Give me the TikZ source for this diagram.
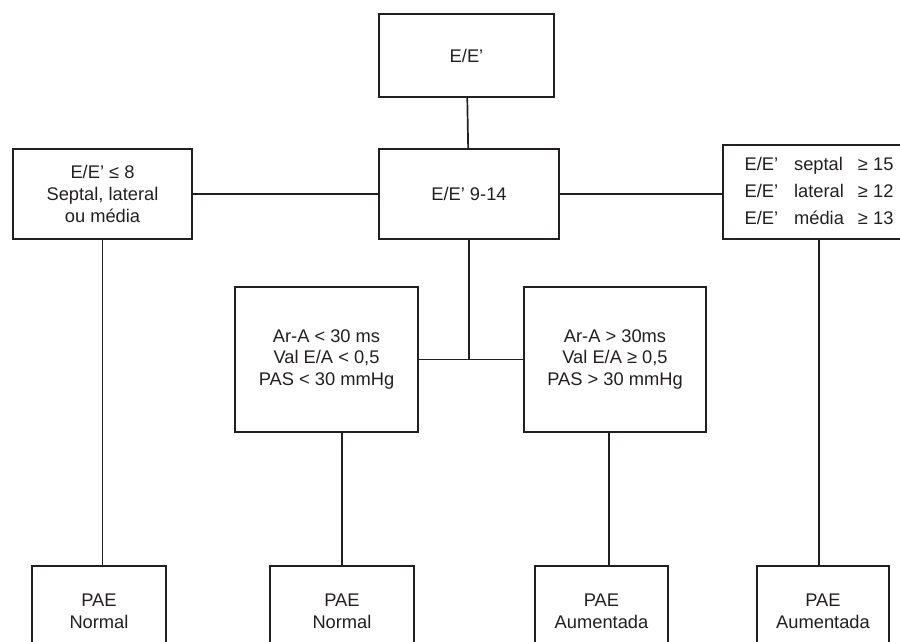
\documentclass[tikz,border=0pt]{standalone}
\usepackage{fontspec}
\setmainfont{Liberation Sans}
\usetikzlibrary{positioning,calc}
\definecolor{lineDark}{HTML}{231F20}
\tikzset{
  box/.style={draw=lineDark, line width=1.7pt, text=lineDark, align=center,
              font=\fontsize{18.3}{21.7}\selectfont, inner sep=0pt},
  pae/.style={box, minimum height=90pt},
  link/.style={draw=lineDark, line width=1.7pt},
}
\begin{document}
\begin{tikzpicture}[x=1pt, y=-1pt]
  \useasboundingbox (0,0) rectangle (900,642);
  \clip (0,0) rectangle (900,642);
  % upper row
  \node[box, minimum width=175pt, minimum height=83pt] (ee) at (466.5,55.5) {E/E'};
  \node[box, minimum width=180pt, minimum height=90pt] (ee914) at (469,194) {E/E' 9-14};
  \node[box, minimum width=179pt, minimum height=90pt] (low) at (102.5,194)
    {E/E' ≤ 8\\Septal, lateral\\ou média};
  \node[box, minimum width=192pt, minimum height=94pt,
        font=\fontsize{18.3}{26.7}\selectfont] (high) at (819,192)
    {\begin{tabular}{@{}l@{\hspace{16pt}}l@{\hspace{14pt}}l@{}}
       E/E' & septal  & ≥ 15\\
       E/E' & lateral & ≥ 12\\
       E/E' & média   & ≥ 13
     \end{tabular}};
  % middle row
  \node[box, minimum width=183pt, minimum height=145pt] (lowpas) at (326.5,359.5)
    {Ar-A < 30 ms\\Val E/A < 0,5\\PAS < 30 mmHg};
  \node[box, minimum width=182pt, minimum height=145pt] (highpas) at (615,359.5)
    {Ar-A > 30ms\\Val E/A ≥ 0,5\\PAS > 30 mmHg};
  % results
  \node[pae, minimum width=134pt] (pae1) at (99,611) {PAE\\Normal};
  \node[pae, minimum width=144pt] (pae2) at (342,611) {PAE\\Normal};
  \node[pae, minimum width=133pt] (pae3) at (601.5,611) {PAE\\Aumentada};
  \node[pae, minimum width=132pt] (pae4) at (823,611) {PAE\\Aumentada};
  % connectors
  \draw[link] (ee) -- (ee914);
  \draw[link] (low) -- (ee914);
  \draw[link] (ee914.east) -- (ee914.east -| high.west);
  \draw[link] (ee914.south) -- (ee914.south |- lowpas.east);
  \draw[link] (lowpas) -- (highpas);
  \draw[link] (low.south) -- (low.south |- pae1.north);
  \draw[link] (pae2.north) -- (pae2.north |- lowpas.south);
  \draw[link] ([xshift=-6pt]highpas.south) -- ([xshift=-6pt]highpas.south |- pae3.north);
  \draw[link] (high.south) -- (high.south |- pae4.north);
\end{tikzpicture}
\end{document}
